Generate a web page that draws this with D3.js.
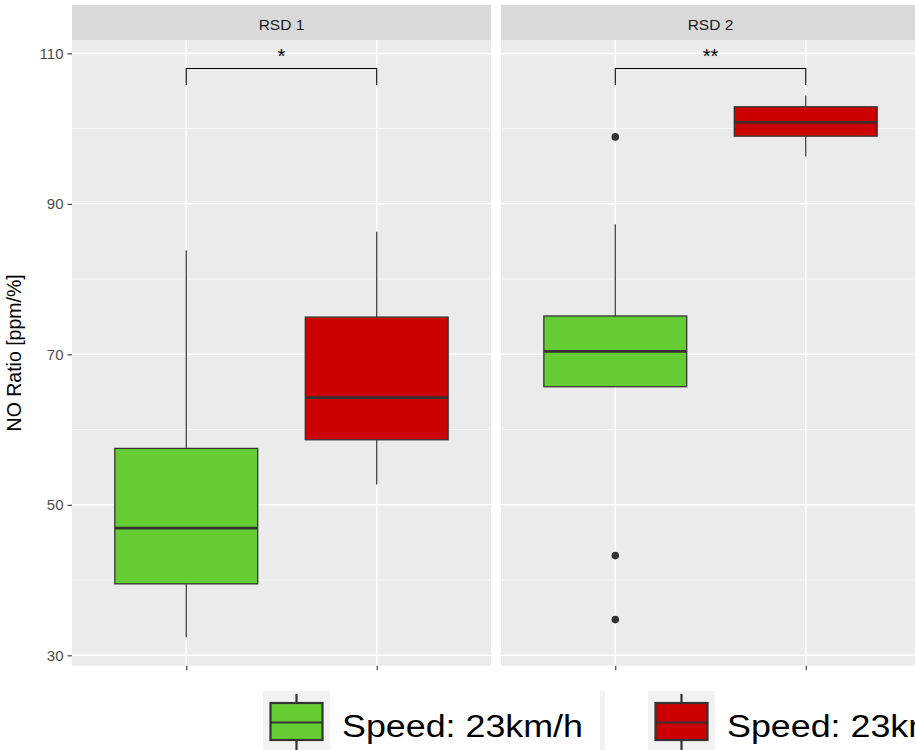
<!DOCTYPE html>
<html>
<head>
<meta charset="utf-8">
<script src="https://cdn.jsdelivr.net/npm/d3@7"></script>
<style>
  html, body { margin: 0; padding: 0; background: #fff; }
  svg { display: block; font-family: "Liberation Sans", Arial, sans-serif; }
</style>
</head>
<body>
<svg id="chart" width="915" height="750"></svg>
<script>
// Facets and groups
const facets = ["RSD 1", "RSD 2"];
const groups = ["23km/h A", "23km/h B"];
const groupLabels = ["Speed: 23km/h", "Speed: 23km/h"];
const groupColors = ["#66CC33", "#CC0000"];

// Box statistics per facet: [lowerWhisker, q1, median, q3, upperWhisker]
const rsd1Stats = [
  [32.4, 39.5, 46.9, 57.5, 83.8],
  [52.7, 58.65, 64.25, 74.95, 86.3]
];
const rsd2Stats = [
  [65.7, 65.7, 70.4, 75.1, 87.3],
  [96.3, 99.0, 100.85, 102.9, 104.4]
];
// Outlying points per facet and group
const rsd1Outliers = [[], []];
const rsd2Outliers = [[98.9, 43.25, 34.75], []];

// Significance brackets
const sigLabels = ["*", "**"];
const bracketLevel = 108.0;
const bracketTip = 105.8;

const yTicks = [30, 50, 70, 90, 110];
const yMinor = [40, 60, 80, 100];

const statsByFacet = [rsd1Stats, rsd2Stats];
const outliersByFacet = [rsd1Outliers, rsd2Outliers];

const svg = d3.select("#chart");
svg.append("rect").attr("width", 915).attr("height", 750).attr("fill", "#fff");

// Panel layout
const panelTop = 40, panelBottom = 665.7;
const stripTop = 5;
const panels = [[72, 491], [501, 920]];

// Shared y scale (data range with 5% expansion)
const allVals = [];
statsByFacet.forEach(f => f.forEach(s => allVals.push(...s)));
outliersByFacet.forEach(f => f.forEach(o => allVals.push(...o)));
allVals.push(bracketLevel);
const yMin = d3.min(allVals), yMax = d3.max(allVals);
const pad = (yMax - yMin) * 0.05;
const y = d3.scaleLinear().domain([yMin - pad, yMax + pad]).range([panelBottom, panelTop]);

const ink = "#333333";

facets.forEach((facet, fi) => {
  const [x0, x1] = panels[fi];
  const x = d3.scalePoint().domain(groups).range([x0, x1]).padding(0.6);
  const boxW = x.step() * 0.75;
  const g = svg.append("g");

  // panel background
  g.append("rect").attr("x", x0).attr("y", panelTop)
    .attr("width", x1 - x0).attr("height", panelBottom - panelTop).attr("fill", "#EBEBEB");

  // strip
  g.append("rect").attr("x", x0).attr("y", stripTop)
    .attr("width", x1 - x0).attr("height", panelTop - stripTop).attr("fill", "#D9D9D9");
  g.append("text").attr("x", (x0 + x1) / 2).attr("y", 30)
    .attr("text-anchor", "middle").attr("font-size", 15.5).attr("fill", "#1A1A1A")
    .text(facet);

  // grid
  g.selectAll(".minor").data(yMinor).join("line")
    .attr("x1", x0).attr("x2", x1)
    .attr("y1", d => y(d)).attr("y2", d => y(d))
    .attr("stroke", "#fff").attr("stroke-width", 0.75);
  g.selectAll(".major").data(yTicks).join("line")
    .attr("x1", x0).attr("x2", x1)
    .attr("y1", d => y(d)).attr("y2", d => y(d))
    .attr("stroke", "#fff").attr("stroke-width", 1.5);
  g.selectAll(".vmajor").data(groups).join("line")
    .attr("x1", d => x(d)).attr("x2", d => x(d))
    .attr("y1", panelTop).attr("y2", panelBottom)
    .attr("stroke", "#fff").attr("stroke-width", 1.5);

  // x axis ticks (no labels)
  const xAxis = d3.axisBottom(x).tickSize(4.5).tickFormat("");
  const xa = svg.append("g").attr("transform", `translate(0,${panelBottom})`).call(xAxis);
  xa.select(".domain").remove();
  xa.selectAll("line").attr("stroke", "#333").attr("stroke-width", 1.1);

  // boxes
  const stats = statsByFacet[fi];
  stats.forEach((s, gi) => {
    const cx = x(groups[gi]);
    const [lo, q1, med, q3, hi] = s;
    g.append("line").attr("x1", cx).attr("x2", cx).attr("y1", y(q3)).attr("y2", y(hi))
      .attr("stroke", ink).attr("stroke-width", 1.2);
    g.append("line").attr("x1", cx).attr("x2", cx).attr("y1", y(q1)).attr("y2", y(lo))
      .attr("stroke", ink).attr("stroke-width", 1.2);
    g.append("rect").attr("x", cx - boxW / 2).attr("y", y(q3))
      .attr("width", boxW).attr("height", y(q1) - y(q3))
      .attr("fill", groupColors[gi]).attr("stroke", ink).attr("stroke-width", 1.3);
    g.append("line").attr("x1", cx - boxW / 2).attr("x2", cx + boxW / 2)
      .attr("y1", y(med)).attr("y2", y(med))
      .attr("stroke", ink).attr("stroke-width", 2.6);
    g.selectAll(null).data(outliersByFacet[fi][gi]).join("circle")
      .attr("cx", cx).attr("cy", d => y(d)).attr("r", 3.8).attr("fill", ink);
  });

  // significance bracket
  const bx1 = x(groups[0]), bx2 = x(groups[1]);
  g.append("path")
    .attr("d", `M${bx1},${y(bracketTip)}V${y(bracketLevel)}H${bx2}V${y(bracketTip)}`)
    .attr("fill", "none").attr("stroke", "#000").attr("stroke-width", 1.1);
  g.append("text").attr("x", (bx1 + bx2) / 2).attr("y", y(bracketLevel) - 5.5)
    .attr("text-anchor", "middle").attr("font-size", 20).attr("fill", "#000")
    .text(sigLabels[fi]);
});

// y axis
const yAxis = d3.axisLeft(y).tickValues(yTicks).tickSize(4.5).tickPadding(4);
const ya = svg.append("g").attr("transform", `translate(${panels[0][0]},0)`).call(yAxis);
ya.select(".domain").remove();
ya.selectAll("line").attr("stroke", "#333").attr("stroke-width", 1.1);
ya.selectAll("text").attr("font-size", 15).attr("fill", "#4D4D4D")
  .attr("font-family", "Liberation Sans, Arial, sans-serif");

// y axis title
svg.append("text")
  .attr("transform", `translate(21,${(panelTop + panelBottom) / 2}) rotate(-90)`)
  .attr("text-anchor", "middle").attr("font-size", 19.5).attr("fill", "#000")
  .text("NO Ratio [ppm/%]");

// legend
const legendKeys = [263, 648];
const keySize = 67, keyTop = 691;
const lg = svg.append("g");
lg.append("rect").attr("x", 600).attr("y", keyTop).attr("width", 5).attr("height", 70).attr("fill", "#F2F2F2");
groups.forEach((grp, i) => {
  const kx = legendKeys[i];
  const cx = kx + keySize / 2;
  lg.append("rect").attr("x", kx).attr("y", keyTop).attr("width", keySize).attr("height", keySize)
    .attr("fill", "#F2F2F2");
  lg.append("line").attr("x1", cx).attr("x2", cx).attr("y1", keyTop + 3).attr("y2", keyTop + 64)
    .attr("stroke", ink).attr("stroke-width", 2.2);
  lg.append("rect").attr("x", kx + 7.5).attr("y", 703).attr("width", 52).attr("height", 37)
    .attr("fill", groupColors[i]).attr("stroke", ink).attr("stroke-width", 2.2);
  lg.append("line").attr("x1", kx + 7.5).attr("x2", kx + 59.5).attr("y1", 722.5).attr("y2", 722.5)
    .attr("stroke", ink).attr("stroke-width", 2.2);
  lg.append("text").attr("x", kx + 79).attr("y", 736.5)
    .attr("font-size", 31).attr("fill", "#000")
    .attr("textLength", 241).attr("lengthAdjust", "spacingAndGlyphs")
    .text(groupLabels[i]);
});
</script>
</body>
</html>
